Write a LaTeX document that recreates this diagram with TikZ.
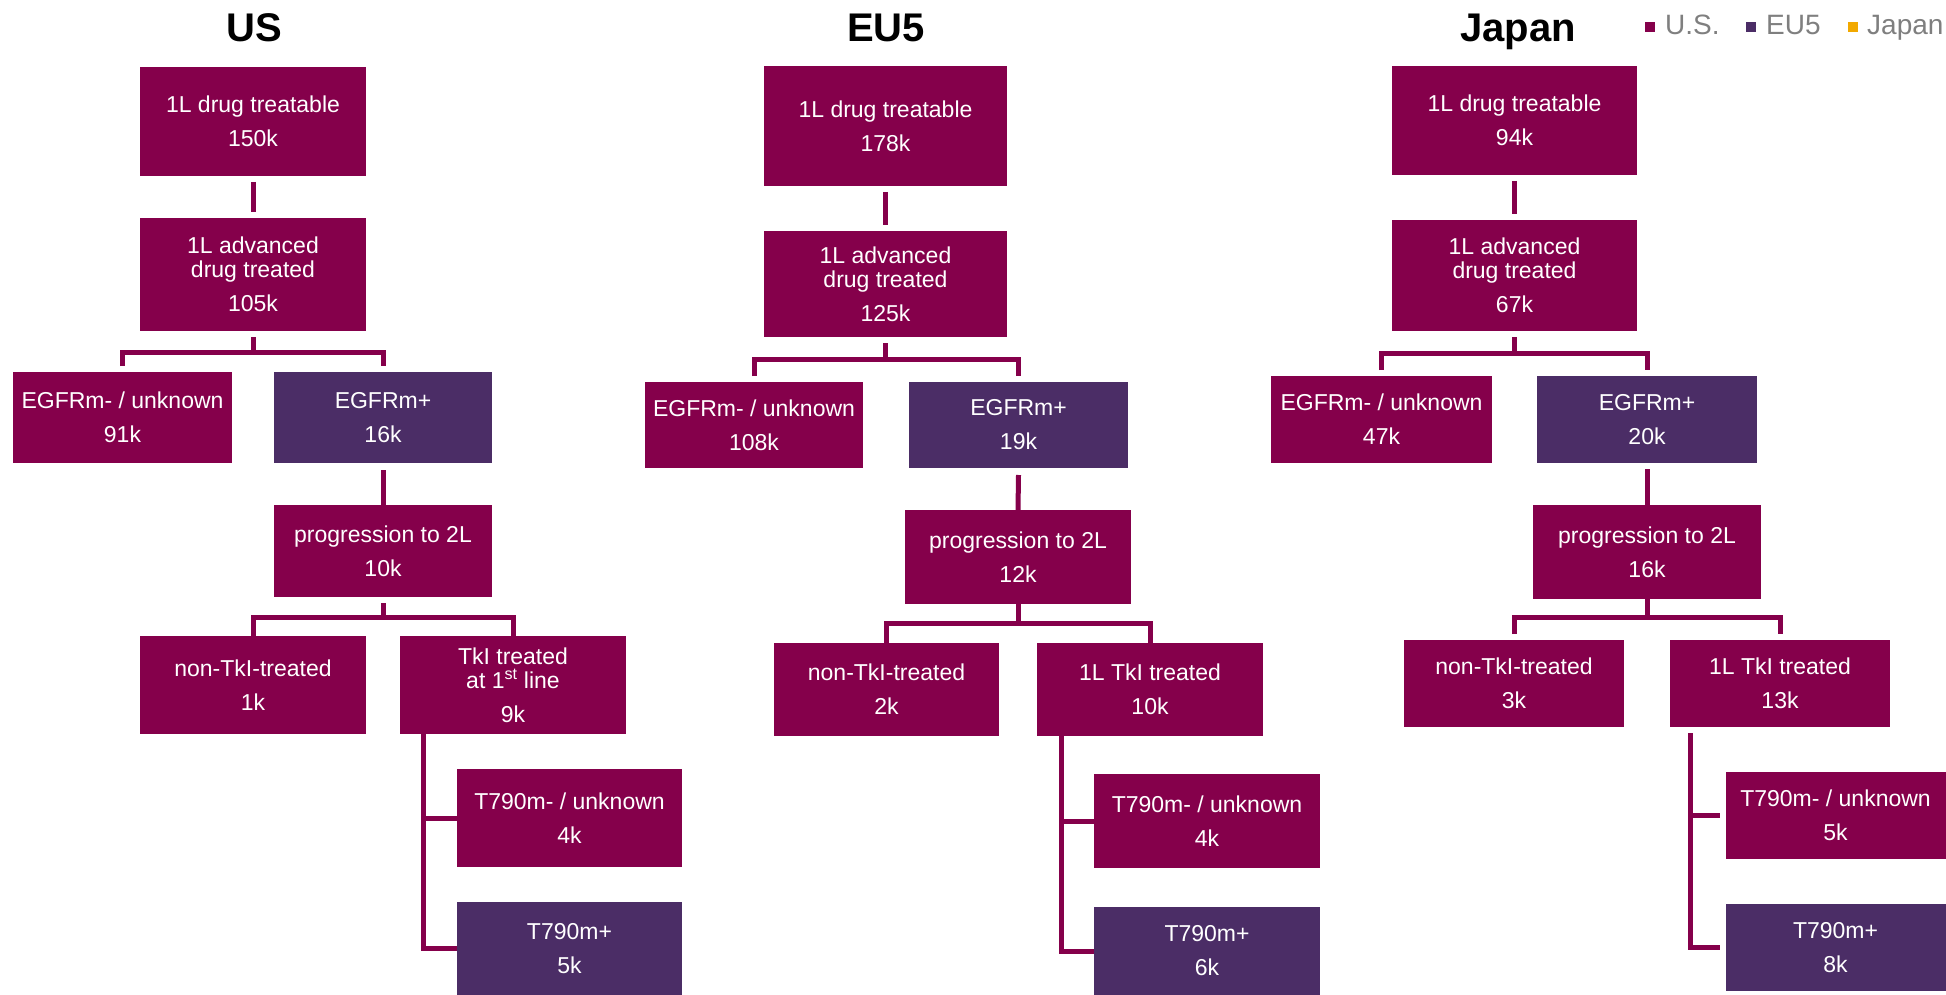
\documentclass[tikz,border=0pt]{standalone}
\usepackage{fontspec}
\setmainfont{Liberation Sans}
\definecolor{mar}{HTML}{85004B}
\definecolor{pur}{HTML}{4B2D66}
\definecolor{leg}{HTML}{7F7F7F}
\definecolor{jap}{HTML}{F2A900}
\begin{document}
\begin{tikzpicture}[x=1pt,y=-1pt,
 bx/.style={rectangle,fill=mar,text=white,inner sep=0pt,outer sep=0pt,align=center,font=\fontsize{23}{24}\selectfont},
 pb/.style={bx,fill=pur},
 conn/.style={draw=mar,line width=5pt},
 ttl/.style={font=\fontsize{40}{40}\selectfont\bfseries,anchor=base,inner sep=0pt},
 legtxt/.style={font=\fontsize{28}{28}\selectfont,text=leg,anchor=base west,inner sep=0pt},
 legsq/.style={minimum size=10pt,inner sep=0pt,outer sep=0pt}
]
\useasboundingbox (0,0) rectangle (1946,995);

% titles
\node[ttl] (tus) at (254,42) {US};
\node[ttl] (teu) at (886,42) {EU5};
\node[ttl] (tjp) at (1518,42) {Japan};

% legend
\node[legsq,fill=mar] (lg1) at (1650,27) {};
\node[legtxt] (lt1) at (1665,35) {U.S.};
\node[legsq,fill=pur] (lg2) at (1751,27) {};
\node[legtxt] (lt2) at (1766,35) {EU5};
\node[legsq,fill=jap] (lg3) at (1853,27) {};
\node[legtxt] (lt3) at (1867,35) {Japan};

% ---------------- US ----------------
\node[bx,minimum width=226pt,minimum height=109pt] (u1) at (253,121.5) {1L drug treatable\\[10pt]150k};
\node[bx,minimum width=226pt,minimum height=113pt] (u2) at (253,274.5) {1L advanced\\drug treated\\[10pt]105k};
\node[bx,minimum width=219pt,minimum height=91pt] (u3) at (122.5,417.5) {EGFRm- / unknown\\[10pt]91k};
\node[pb,minimum width=218pt,minimum height=91pt] (u4) at (383,417.5) {EGFRm+\\[10pt]16k};
\node[bx,minimum width=218pt,minimum height=92pt] (u5) at (383,551) {progression to 2L\\[10pt]10k};
\node[bx,minimum width=226pt,minimum height=98pt] (u6) at (253,685) {non-TkI-treated\\[10pt]1k};
\node[bx,minimum width=226pt,minimum height=98pt] (u7) at (513,685) {TkI treated\\at 1\textsuperscript{st} line\\[10pt]9k};
\node[bx,minimum width=225pt,minimum height=98pt] (u8) at (569.5,818) {T790m- / unknown\\[10pt]4k};
\node[pb,minimum width=225pt,minimum height=93pt] (u9) at (569.5,948.5) {T790m+\\[10pt]5k};

\coordinate (uj1) at (0,352);
\coordinate (uj2) at (0,617);
\coordinate (ubx) at (423,0);
\draw[conn] ([yshift=-6pt]u1.south) -- ([yshift=6pt]u2.north);
\draw[conn] ([yshift=-6pt]u2.south) -- (u2.south |- uj1);
\draw[conn] ([yshift=6pt]u3.north) -- (u3.north |- uj1) -- (u4.north |- uj1) -- ([yshift=6pt]u4.north);
\draw[conn] ([yshift=-7pt]u4.south) -- (u5.north);
\draw[conn] ([yshift=-6pt]u5.south) -- (u5.south |- uj2);
\draw[conn] (u6.north) -- (u6.north |- uj2) -- (u7.north |- uj2) -- (u7.north);
\draw[conn] (u7.south -| ubx) |- (u9.west);
\draw[conn] (u8.west) -| (u7.south -| ubx);

% ---------------- EU5 ----------------
\node[bx,minimum width=243pt,minimum height=120pt] (e1) at (885.5,126) {1L drug treatable\\[10pt]178k};
\node[bx,minimum width=243pt,minimum height=106pt] (e2) at (885.5,284) {1L advanced\\drug treated\\[10pt]125k};
\node[bx,minimum width=218pt,minimum height=86pt] (e3) at (754,425) {EGFRm- / unknown\\[10pt]108k};
\node[pb,minimum width=219pt,minimum height=86pt] (e4) at (1018.5,425) {EGFRm+\\[10pt]19k};
\node[bx,minimum width=226pt,minimum height=94pt] (e5) at (1018,557) {progression to 2L\\[10pt]12k};
\node[bx,minimum width=225pt,minimum height=93pt] (e6) at (886.5,689.5) {non-TkI-treated\\[10pt]2k};
\node[bx,minimum width=226pt,minimum height=93pt] (e7) at (1150,689.5) {1L TkI treated\\[10pt]10k};
\node[bx,minimum width=226pt,minimum height=94pt] (e8) at (1207,821) {T790m- / unknown\\[10pt]4k};
\node[pb,minimum width=226pt,minimum height=88pt] (e9) at (1207,951) {T790m+\\[10pt]6k};

\coordinate (ej1) at (0,359);
\coordinate (ej2) at (0,623);
\coordinate (ebx) at (1061,0);
\draw[conn] ([yshift=-6pt]e1.south) -- ([yshift=6pt]e2.north);
\draw[conn] ([yshift=-6pt]e2.south) -- (e2.south |- ej1);
\draw[conn] ([yshift=6pt]e3.north) -- (e3.north |- ej1) -- (e4.north |- ej1) -- ([yshift=6pt]e4.north);
\draw[conn] ([yshift=-7pt]e4.south) -- (e5.north);
\draw[conn] (e5.south) -- (e5.south |- ej2);
\draw[conn] (e6.north) -- (e6.north |- ej2) -- (e7.north |- ej2) -- (e7.north);
\draw[conn] (e7.south -| ebx) |- (e9.west);
\draw[conn] (e8.west) -| (e7.south -| ebx);

% ---------------- Japan ----------------
\node[bx,minimum width=245pt,minimum height=109pt] (j1) at (1514.5,120.5) {1L drug treatable\\[10pt]94k};
\node[bx,minimum width=245pt,minimum height=111pt] (j2) at (1514.5,275.5) {1L advanced\\drug treated\\[10pt]67k};
\node[bx,minimum width=221pt,minimum height=87pt] (j3) at (1381.5,419.5) {EGFRm- / unknown\\[10pt]47k};
\node[pb,minimum width=220pt,minimum height=87pt] (j4) at (1647,419.5) {EGFRm+\\[10pt]20k};
\node[bx,minimum width=228pt,minimum height=94pt] (j5) at (1647,552) {progression to 2L\\[10pt]16k};
\node[bx,minimum width=220pt,minimum height=87pt] (j6) at (1514,683.5) {non-TkI-treated\\[10pt]3k};
\node[bx,minimum width=220pt,minimum height=87pt] (j7) at (1780,683.5) {1L TkI treated\\[10pt]13k};
\node[bx,minimum width=220pt,minimum height=87pt] (j8) at (1835.5,815.5) {T790m- / unknown\\[10pt]5k};
\node[pb,minimum width=220pt,minimum height=87pt] (j9) at (1835.5,947.5) {T790m+\\[10pt]8k};

\coordinate (jj1) at (0,353);
\coordinate (jj2) at (0,617);
\coordinate (jbx) at (1690,0);
\draw[conn] ([yshift=-6pt]j1.south) -- ([yshift=6pt]j2.north);
\draw[conn] ([yshift=-6pt]j2.south) -- (j2.south |- jj1);
\draw[conn] ([yshift=6pt]j3.north) -- (j3.north |- jj1) -- (j4.north |- jj1) -- ([yshift=6pt]j4.north);
\draw[conn] ([yshift=-6pt]j4.south) -- (j5.north);
\draw[conn] (j5.south) -- (j5.south |- jj2);
\draw[conn] ([yshift=6pt]j6.north) -- (j6.north |- jj2) -- (j7.north |- jj2) -- ([yshift=6pt]j7.north);
\draw[conn] ([yshift=-6pt]j7.south -| jbx) |- ([xshift=-6pt]j9.west);
\draw[conn] ([xshift=-6pt]j8.west) -| ([yshift=-6pt]j7.south -| jbx);
\end{tikzpicture}
\end{document}
